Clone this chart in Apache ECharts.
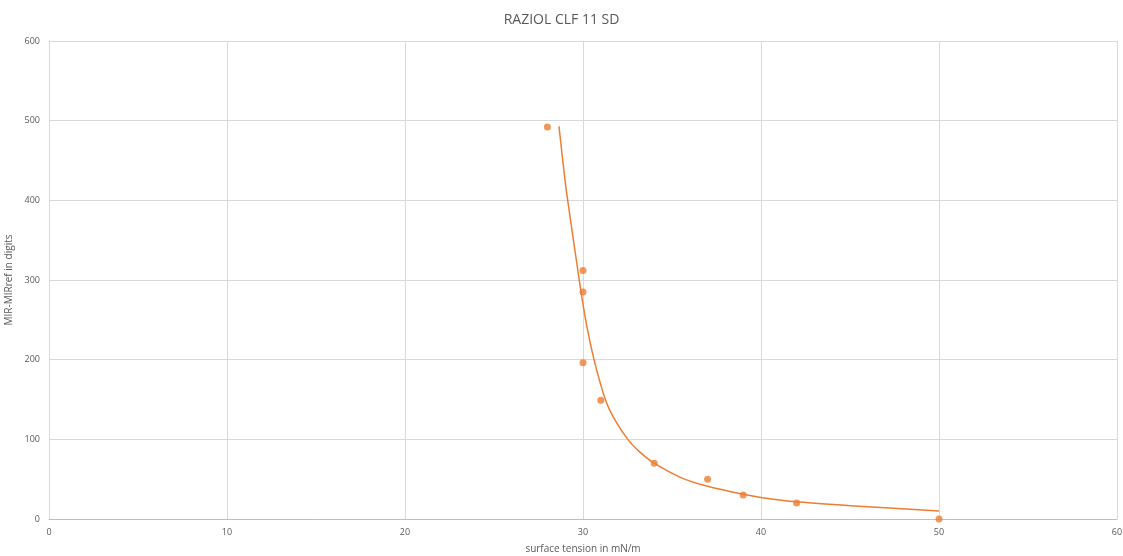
<!DOCTYPE html>
<html>
<head>
<meta charset="utf-8">
<script src="https://cdn.jsdelivr.net/npm/echarts@6/dist/echarts.min.js"></script>
<style>
html,body{margin:0;padding:0;background:#fff;}
#chart{width:1123px;height:556px;}
</style>
</head>
<body>
<div id="chart"></div>
<script>
const titleText = "RAZIOL CLF 11 SD";
const xAxisName = "surface tension in mN/m";
const yAxisName = "MIR-MIRref in digits";
const pointX = [28, 30, 30, 30, 31, 34, 37, 39, 42, 50];
const pointY = [492, 312, 285, 196, 149, 70, 50, 30, 20, 0];
const trendX = [28.65, 28.99, 29.14, 29.79, 30.15, 30.62, 31.27, 31.8, 32.55, 33.2, 34, 35.5, 37, 39, 40, 42, 45.5, 50];
const trendY = [493, 425, 400, 300, 250, 200, 149, 124, 99, 84, 70, 52, 41, 31, 27, 21.5, 16, 10];

const font = "'Open Sans', 'Liberation Sans', sans-serif";
const chart = echarts.init(document.getElementById('chart'));
chart.setOption({
  animation: false,
  title: {
    text: titleText, left: 'center', top: 8,
    textStyle: { fontFamily: font, fontSize: 14, fontWeight: 'normal', color: '#595959' }
  },
  grid: { left: 49, right: 6, top: 41, bottom: 37, containLabel: false, outerBoundsMode: 'none' },
  xAxis: {
    type: 'value', min: 0, max: 60, interval: 10,
    name: xAxisName, nameLocation: 'middle', nameGap: 25,
    nameTextStyle: { fontFamily: font, fontSize: 10, color: '#595959' },
    axisLine: { show: true, lineStyle: { color: '#bfbfbf' } },
    axisTick: { show: false },
    axisLabel: { fontFamily: font, fontSize: 9, color: '#595959', margin: 9 },
    splitLine: { show: true, lineStyle: { color: '#d9d9d9' } }
  },
  yAxis: {
    type: 'value', min: 0, max: 600, interval: 100,
    name: yAxisName, nameLocation: 'middle', nameGap: 34, nameRotate: 90,
    nameTextStyle: { fontFamily: font, fontSize: 10, color: '#595959' },
    axisLine: { show: true, lineStyle: { color: '#d9d9d9' } },
    axisTick: { show: false },
    axisLabel: { fontFamily: font, fontSize: 9, color: '#595959', margin: 9 },
    splitLine: { show: true, lineStyle: { color: '#d9d9d9' } }
  },
  series: [
    {
      type: 'line',
      data: trendX.map((x, i) => [x, trendY[i]]),
      smooth: 0.3,
      showSymbol: false,
      lineStyle: { color: '#ED7D31', width: 1.5 },
      z: 2
    },
    {
      type: 'scatter',
      data: pointX.map((x, i) => [x, pointY[i]]),
      symbolSize: 7,
      itemStyle: { color: '#ED7D31' },
      z: 3
    }
  ]
});
</script>
</body>
</html>
